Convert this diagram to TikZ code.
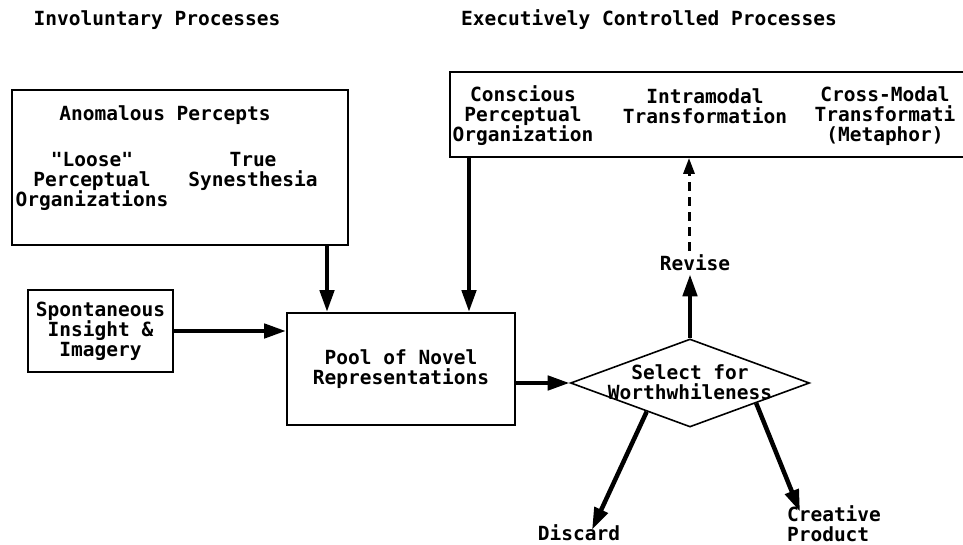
\documentclass[tikz,border=0pt]{standalone}
\usepackage{fontspec}
\setmonofont{DejaVu Sans Mono}
\usetikzlibrary{arrows.meta,shapes.geometric,calc}
\begin{document}
\begin{tikzpicture}[x=1pt,y=-1pt,
  txt/.style={font=\ttfamily\bfseries\fontsize{19.5}{20}\selectfont, align=center, inner sep=0pt},
  box/.style={draw, line width=1.8pt, inner sep=0pt},
  arr/.style={line width=4.5pt, -{Triangle[length=22pt,width=14pt]}},
  darr/.style={line width=3pt, dash pattern=on 9pt off 6pt, -{Triangle[length=16pt,width=11pt]}}]
\fill[white] (0,0) rectangle (963,545);
\useasboundingbox (0,0) rectangle (963,545);
\clip (0,0) rectangle (963,545);

% headers
\node[txt] (h1) at (157,20) {Involuntary Processes};
\node[txt] (h2) at (649,20) {Executively Controlled Processes};

% boxes
\node[box, minimum width=336pt, minimum height=155pt] (anom) at (180,167.5) {};
\node[box, minimum width=525pt, minimum height=85pt] (rbox) at (712.5,114.5) {};
\node[box, minimum width=145pt, minimum height=82pt, txt] (spont) at (100.5,331) {Spontaneous\\Insight \&\\Imagery};
\node[box, minimum width=228pt, minimum height=112pt, txt] (pool) at (401,369) {Pool of Novel\\Representations};
\node[diamond, draw, line width=1.6pt, minimum width=239pt, minimum height=88pt, inner sep=0pt] (sel) at (690,383) {};

% texts inside anomalous box
\node[txt] (anomt) at (165,115) {Anomalous Percepts};
\node[txt] (loose) at (92,181) {"Loose"\\Perceptual\\Organizations};
\node[txt] (syn) at (253,171) {True\\Synesthesia};

% texts inside executive box
\node[txt] (cpo) at (523,116) {Conscious\\Perceptual\\Organization};
\node[txt] (intra) at (705,106) {Intramodal\\Transformation};
\node[txt] (cross) at (885,116) {Cross-Modal\\Transformati\\(Metaphor)};

% diamond text and outcomes
\node[txt] (selt) at (690,382) {Select for\\Worthwhileness};
\node[txt] (rev) at (695,263) {Revise};
\node[txt] (disc) at (579,533) {Discard};
\node[txt, align=left] (cp) at (834,524) {Creative\\Product};

% connectors
\coordinate (xa) at (327,0);
\coordinate (xb) at (469,0);
\coordinate (xr) at (689,0);
\draw[arr] (xa |- anom.south) -- (xa |- pool.north);
\draw[arr] (xb |- rbox.south) -- (xb |- pool.north);
\draw[arr] (spont.east) -- (spont.east -| pool.west);
\draw[arr] (pool.east |- sel.west) -- (sel.west);
\draw[arr] (sel.north) -- ([yshift=-3pt]rev.south -| sel.north);
\draw[darr] ([yshift=4pt]rev.north -| xr) -- (xr |- rbox.south);
\draw[arr] ($(sel.west)!0.64!(sel.south)$) -- ([xshift=13pt,yshift=-5pt]disc.north);
\draw[arr] ($(sel.south)!0.55!(sel.east)$) -- ([xshift=-34pt,yshift=-6pt]cp.north);
\end{tikzpicture}
\end{document}
